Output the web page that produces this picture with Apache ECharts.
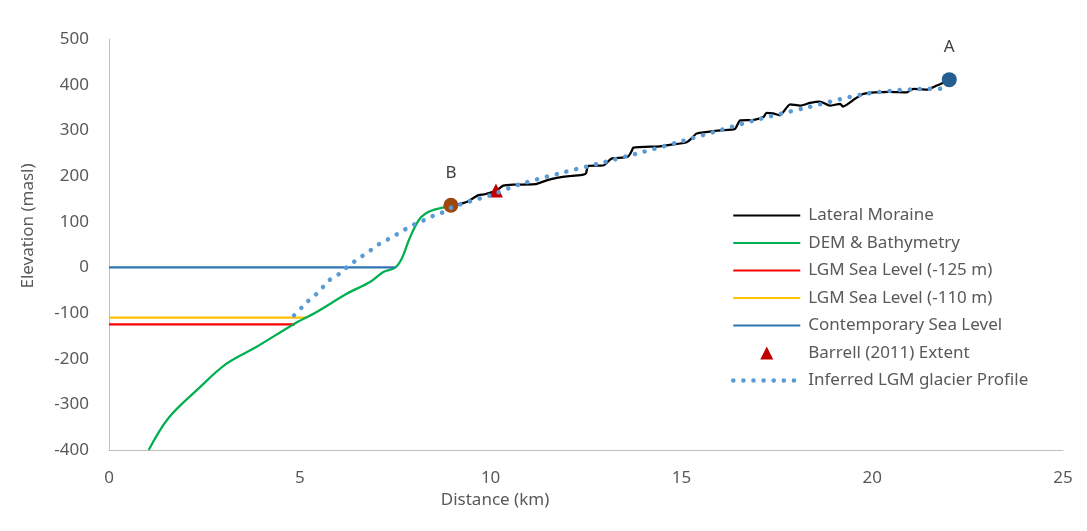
<!DOCTYPE html>
<html>
<head>
<meta charset="utf-8">
<script src="https://cdn.jsdelivr.net/npm/echarts@6/dist/echarts.min.js"></script>
<style>html,body{margin:0;padding:0;background:#fff}#c{width:1087px;height:531px}</style>
</head>
<body>
<div id="c"></div>
<script>
var xTicks = [0, 5, 10, 15, 20, 25];
var yTicks = [-400, -300, -200, -100, 0, 100, 200, 300, 400, 500];

var moraine = [[8.96,136],[9.15,138],[9.37,143],[9.55,152],[9.68,158],[9.85,160],[9.98,163],[10.15,168],[10.25,174],[10.33,179],[10.6,181],[11.16,182],[11.45,190],[11.73,196],[12.1,200],[12.43,203],[12.5,206],[12.56,222],[12.95,223],[13.17,238],[13.45,240],[13.61,243],[13.7,255],[13.74,262],[14.44,265],[14.7,268],[15.14,274],[15.3,285],[15.4,293],[16.01,300],[16.4,303],[16.54,322],[16.9,323],[17.15,329],[17.23,338],[17.4,337],[17.58,333],[17.85,357],[18.11,354],[18.37,360],[18.63,363],[18.89,354],[19.16,358],[19.23,352],[19.55,369],[19.77,380],[20.47,384],[20.9,383],[21.08,391],[21.42,389],[21.69,398],[22.02,411]];
var dem = [[1.04,-400],[1.55,-331],[2.3,-269],[3.08,-211],[3.87,-174],[4.83,-125],[5.44,-98],[6.23,-58],[6.84,-32],[7.19,-10],[7.49,-1],[7.67,19],[7.89,66],[8.15,107],[8.41,123],[8.85,133],[8.96,136]];
var lgm125 = [[0,-125],[4.87,-125]];
var lgm110 = [[0,-110],[5.16,-110]];
var contemporary = [[0,0],[7.49,0]];
var barrell = [[10.14,168]];
var inferred = [[4.85,-105],[5.05,-88],[5.24,-72],[5.44,-58],[5.62,-42],[5.79,-27],[6.04,-14],[6.23,0],[6.45,14],[6.66,26],[6.88,39],[7.1,52],[7.35,63],[7.58,74],[7.8,85],[8.05,96],[8.28,104],[8.53,114],[8.77,121],[9.0,132],[10.03,159],[10.77,182],[11.82,206],[12.87,228],[13.87,250],[14.92,274],[15.92,298],[16.97,323],[18.24,349],[19.77,379],[21.08,390],[21.91,391]];
var pointA = [[22.02,411]];
var pointB = [[8.96,136]];

var FONT = 'Noto Sans';
var TRI_ICON = 'path://M0,0L0.01,0L0,0.01Z M67,14L66.99,14L67,13.99Z M27,13.5L40,13.5L33.5,0.5Z';
var chart = echarts.init(document.getElementById('c'), null, {renderer:'canvas'});
chart.setOption({
  backgroundColor:'#fff',
  animation:false,
  textStyle:{fontFamily:FONT},
  grid:{left:109,right:24,top:39,bottom:81,containLabel:false},
  legend:{
    orient:'vertical', left:731, top:207, padding:0,
    itemWidth:67, itemHeight:14, itemGap:10.5,
    itemStyle:{opacity:0},
    textStyle:{fontFamily:FONT,fontSize:17,color:'#595959',padding:[0,0,0,3]},
    data:['Lateral Moraine','DEM & Bathymetry','LGM Sea Level (-125 m)','LGM Sea Level (-110 m)','Contemporary Sea Level',
      {name:'Barrell (2011) Extent',icon:TRI_ICON,itemStyle:{opacity:1,color:'#C00000'}},
      {name:'Inferred LGM glacier Profile',lineStyle:{width:4.5,type:[0.1,10],cap:'round'}}]
  },
  xAxis:{
    type:'value', min:xTicks[0], max:xTicks[xTicks.length-1], interval:5,
    name:'Distance (km)', nameLocation:'middle', nameGap:41,
    nameTextStyle:{fontFamily:FONT,fontSize:17,color:'#595959',padding:[0,182,0,0]},
    axisLine:{show:true,onZero:false,lineStyle:{color:'#BFBFBF',width:1}},
    axisTick:{show:false},
    splitLine:{show:false},
    axisLabel:{fontFamily:FONT,fontSize:17,color:'#595959',margin:20}
  },
  yAxis:{
    type:'value', min:yTicks[0], max:yTicks[yTicks.length-1], interval:100,
    name:'Elevation (masl)', nameLocation:'middle', nameGap:72,
    nameTextStyle:{fontFamily:FONT,fontSize:17,color:'#595959',padding:[0,0,0,37]},
    axisLine:{show:true,onZero:false,lineStyle:{color:'#BFBFBF',width:1}},
    axisTick:{show:false},
    splitLine:{show:false},
    axisLabel:{fontFamily:FONT,fontSize:17,color:'#595959',margin:20}
  },
  series:[
    {name:'Lateral Moraine',type:'line',data:moraine,showSymbol:false,symbol:'none',smooth:0.2,
      lineStyle:{color:'#000000',width:2.25},itemStyle:{color:'#000000'},z:3},
    {name:'DEM & Bathymetry',type:'line',data:dem,symbol:'none',smooth:0.35,
      lineStyle:{color:'#00B050',width:2.25},itemStyle:{color:'#00B050'},z:3},
    {name:'LGM Sea Level (-125 m)',type:'line',data:lgm125,symbol:'none',
      lineStyle:{color:'#FF0000',width:2.25},itemStyle:{color:'#FF0000'},z:2},
    {name:'LGM Sea Level (-110 m)',type:'line',data:lgm110,symbol:'none',
      lineStyle:{color:'#FFC000',width:2.25},itemStyle:{color:'#FFC000'},z:2},
    {name:'Contemporary Sea Level',type:'line',data:contemporary,symbol:'none',
      lineStyle:{color:'#2E75B6',width:2.25},itemStyle:{color:'#2E75B6'},z:4},
    {name:'Barrell (2011) Extent',type:'scatter',data:barrell,symbol:'triangle',symbolSize:14,
      itemStyle:{color:'#C00000',opacity:1},z:5},
    {name:'A',type:'scatter',data:pointA,symbol:'circle',symbolSize:15,
      itemStyle:{color:'#255E91',opacity:1},z:5,
      label:{show:true,position:'top',distance:16,formatter:'A',fontFamily:FONT,fontSize:17,color:'#404040'}},
    {name:'B',type:'scatter',data:pointB,symbol:'circle',symbolSize:15,
      itemStyle:{color:'#9E480E',opacity:1},z:5,
      label:{show:true,position:'top',distance:16,formatter:'B',fontFamily:FONT,fontSize:17,color:'#404040'}},
    {name:'Inferred LGM glacier Profile',type:'line',data:inferred,symbol:'none',smooth:0.3,
      lineStyle:{color:'#5B9BD5',width:4.5,type:[0.1,10],cap:'round'},itemStyle:{color:'#5B9BD5'},z:6}
  ]
});
</script>
</body>
</html>
